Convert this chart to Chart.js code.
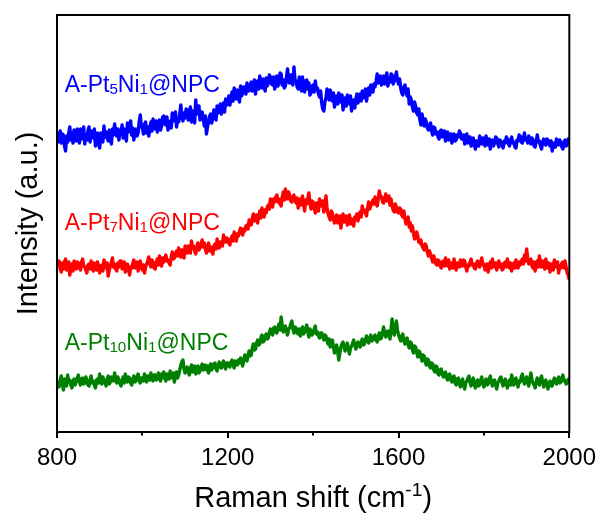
<!DOCTYPE html>
<html>
<head>
<meta charset="utf-8">
<script src="https://cdn.jsdelivr.net/npm/chart.js@4.4.1/dist/chart.umd.min.js"></script>
<style>
  html, body { margin: 0; padding: 0; background: #fff; }
  #wrap { width: 608px; height: 515px; }
</style>
</head>
<body>
<div id="wrap"><canvas id="raman" width="608" height="515"></canvas></div>
<script>
// Raman spectra, sampled every 2.5 cm-1 from 800 to 2000 cm-1 (intensity in a.u.)
// one row = 50 cm-1
const WN_START = 800;
const WN_STEP = 2.5;

const ptNi5 = [
  300,290,294,301,289,298,297,286,281,296,290,299,305,292,299,289,302,296,291,303,
  296,289,303,293,299,305,288,297,292,301,305,290,301,296,294,303,286,297,299,288,
  284,299,297,290,306,295,300,294,291,302,295,288,303,297,308,299,296,303,292,300,
  301,307,294,303,298,291,309,300,305,311,297,304,292,300,303,296,299,310,317,305,
  304,298,308,310,299,305,296,304,310,301,313,307,303,311,300,309,312,302,306,315,
  316,308,307,315,302,310,311,304,319,311,314,320,305,313,310,318,327,314,311,319,
  314,323,322,312,319,325,310,321,317,309,332,318,321,326,312,319,320,313,306,316,
  298,305,310,316,318,309,314,322,317,312,326,319,321,328,318,324,329,320,333,327,
  331,336,327,334,340,331,344,338,333,342,337,330,346,336,339,345,342,338,349,341,
  341,347,350,341,346,352,338,347,351,343,356,349,344,353,347,341,354,346,349,357,
  355,348,347,355,343,351,356,346,350,359,358,347,352,344,346,355,363,350,349,357,
  354,347,365,352,351,345,343,355,348,341,355,346,340,351,352,343,349,337,339,346,
  347,340,351,343,344,338,335,341,329,323,321,330,334,343,339,332,342,335,331,339,
  325,333,336,328,339,331,330,337,322,329,334,326,337,330,328,336,321,329,332,324,
  333,338,329,335,338,331,341,334,336,343,331,339,344,337,347,341,340,348,345,351,
  358,349,351,356,347,354,356,348,353,359,346,352,350,358,357,348,351,355,360,352,
  348,353,344,339,337,345,347,341,336,343,328,335,332,325,321,330,326,319,317,323,
  312,307,318,311,306,313,310,304,302,307,309,301,297,305,304,298,300,295,293,301,
  302,295,297,301,291,297,300,292,294,298,289,296,298,291,292,297,295,301,299,293,
  293,297,288,292,298,289,290,295,286,293,294,287,283,291,290,286,296,290,288,294,
  291,286,296,290,287,293,283,290,292,286,289,295,294,288,285,292,290,287,284,291,
  289,295,293,288,286,292,295,289,290,285,284,292,291,297,296,290,289,294,299,292,
  294,289,296,291,288,294,292,286,285,291,297,290,291,286,283,290,293,288,287,293,
  292,288,286,291,281,287,289,285,293,289,287,292,290,285,283,290,292,286,287,293,
  290
];

const ptNi7 = [
  165,168,171,163,160,169,163,170,173,162,166,170,157,164,168,161,171,165,163,170,
  169,164,162,170,173,166,165,162,159,167,168,163,171,166,161,169,166,162,170,165,
  159,166,167,161,172,167,164,169,156,162,166,170,174,165,168,163,161,169,165,171,
  171,163,166,170,160,166,168,162,157,165,164,169,172,164,167,170,161,167,171,164,
  162,167,159,165,168,171,175,168,165,172,170,164,163,169,173,167,176,170,166,174,
  170,174,177,171,172,169,167,175,180,173,174,178,181,176,184,179,175,182,179,174,
  186,180,179,186,183,179,191,184,186,181,178,185,189,182,184,188,192,185,189,183,
  179,186,189,181,185,182,178,186,188,183,193,187,184,190,189,186,197,191,190,194,
  193,189,187,193,196,191,200,195,191,198,196,201,204,199,197,203,201,206,207,203,
  212,210,207,214,218,211,214,217,209,216,221,214,224,220,215,222,219,225,227,223,
  233,229,225,233,230,235,237,230,233,228,226,235,240,232,243,236,233,240,237,231,
  230,235,237,231,229,234,224,230,233,227,236,229,221,232,228,234,239,229,223,231,
  230,224,219,229,225,221,233,226,227,231,220,228,236,224,218,215,212,221,219,213,
  209,214,217,209,211,216,204,212,218,210,213,216,207,213,217,208,213,210,206,215,
  214,218,211,216,220,215,226,220,222,219,216,224,230,223,226,229,232,228,235,229,
  226,233,241,236,235,230,229,234,238,231,232,236,227,233,226,222,220,228,225,220,
  219,224,223,217,215,221,213,208,210,215,205,209,201,206,199,193,194,200,196,190,
  189,192,186,184,182,188,186,180,176,181,178,174,170,176,173,168,167,172,171,166,
  164,170,171,166,174,168,166,172,163,167,169,164,173,167,162,169,168,165,172,166,
  166,172,171,165,161,167,166,170,173,167,168,164,163,169,171,166,165,170,174,167,
  168,162,164,168,160,166,170,164,173,167,165,169,162,167,171,165,168,162,163,169,
  170,165,173,168,164,169,161,167,169,164,172,166,164,170,167,171,173,168,177,171,
  183,174,168,171,173,166,164,170,161,167,171,165,176,169,165,171,168,163,173,167,
  164,169,160,166,168,162,172,167,165,170,159,166,164,169,170,164,171,165,159,157,
  152
];

const ptNi10 = [
  51,48,45,52,56,49,42,53,49,46,57,50,52,47,44,51,53,47,50,54,
  57,51,47,53,54,48,49,55,52,47,46,52,56,49,51,47,44,52,53,49,
  58,51,48,55,51,49,46,53,56,48,50,55,53,51,59,52,49,55,52,48,
  46,52,55,49,58,53,50,55,54,49,47,52,56,50,51,55,58,52,49,54,
  54,51,58,53,50,56,56,52,59,54,51,57,57,52,53,59,55,51,58,54,
  60,55,51,58,57,53,61,56,54,59,50,56,60,54,57,62,67,70,72,63,
  59,62,65,60,57,63,67,60,63,66,58,64,66,59,61,65,68,62,64,67,
  62,66,59,64,68,62,65,68,69,63,61,66,70,65,64,68,71,66,63,69,
  69,66,65,70,72,67,64,71,70,67,72,69,74,70,66,72,77,73,71,77,
  81,76,77,84,88,82,83,89,92,87,88,94,97,90,91,96,98,93,94,100,
  103,99,97,104,105,100,99,104,108,102,115,107,100,104,106,101,97,103,104,108,
  111,104,99,105,104,99,98,103,96,101,105,98,100,104,107,100,95,103,101,97,
  99,103,106,98,100,96,94,99,99,95,92,97,96,91,88,93,85,89,92,85,
  79,84,87,80,72,79,85,88,90,85,81,86,89,83,78,84,86,89,92,87,
  83,87,90,86,85,90,93,87,88,92,96,91,89,94,97,91,92,95,97,92,
  90,95,99,93,94,99,105,98,95,100,101,96,93,103,113,101,97,104,111,102,
  97,94,91,96,98,91,88,93,94,87,84,90,89,82,79,86,85,80,75,81,
  80,75,71,77,76,70,67,73,72,66,64,69,68,62,60,66,65,58,57,62,
  63,58,55,59,60,54,52,57,58,52,50,55,56,49,47,53,54,48,45,51,
  53,47,43,49,51,54,56,50,46,51,54,48,44,50,52,46,47,52,55,49,
  45,50,53,47,48,53,56,50,46,51,52,47,43,49,51,54,55,49,46,51,
  53,48,44,50,52,47,57,51,47,52,54,49,45,51,50,55,58,52,48,51,
  55,50,46,53,59,52,49,47,44,50,54,49,47,53,56,50,45,49,52,47,
  43,48,51,46,46,51,54,50,48,52,55,49,50,54,57,51,52,48,49,52,
  54
];

const majorTicks = [800, 1200, 1600, 2000];
const minorTicks = [1000, 1400, 1800];

const seriesNames = ['A-Pt5Ni1@NPC', 'A-Pt7Ni1@NPC', 'A-Pt10Ni1@NPC'];
const seriesColors = ['#0000ff', '#ff0000', '#008000'];

[ptNi5, ptNi7, ptNi10].forEach((s, i) => {
  if (s.length !== 481) throw new Error(seriesNames[i] + ' has ' + s.length + ' samples');
});

const FONT = '"Liberation Sans", Arial, Helvetica, sans-serif';

const toPoints = (vals) => vals.map((v, i) => ({ x: WN_START + i * WN_STEP, y: v }));

// Rich text with sub/superscript runs: parts = [[text, mode]] where mode 0 normal, 1 sub, 2 sup
function drawRich(ctx, parts, x, y, size, align) {
  const measure = () => {
    let w = 0;
    for (const [t, m] of parts) {
      ctx.font = `${m ? size * 0.66 : size}px ${FONT}`;
      w += ctx.measureText(t).width;
    }
    return w;
  };
  let cx = align === 'center' ? x - measure() / 2 : x;
  ctx.textAlign = 'left';
  ctx.textBaseline = 'alphabetic';
  for (const [t, m] of parts) {
    const fs = m ? size * 0.66 : size;
    ctx.font = `${fs}px ${FONT}`;
    const dy = m === 1 ? size * 0.1 : (m === 2 ? -size * 0.38 : 0);
    ctx.fillText(t, cx, y + dy);
    cx += ctx.measureText(t).width;
  }
}

const seriesTags = [
  { parts: [['A-Pt', 0], ['5', 1], ['Ni', 0], ['1', 1], ['@NPC', 0]], x: 818, y: 340 },
  { parts: [['A-Pt', 0], ['7', 1], ['Ni', 0], ['1', 1], ['@NPC', 0]], x: 818, y: 202 },
  { parts: [['A-Pt', 0], ['10', 1], ['Ni', 0], ['1', 1], ['@NPC', 0]], x: 818, y: 82 }
];

const decorations = {
  id: 'decorations',
  afterDatasetsDraw(chart) {
    const { ctx, chartArea: a, scales } = chart;
    const xs = scales.x, ys = scales.y;
    ctx.save();
    // frame
    ctx.strokeStyle = '#000';
    ctx.lineWidth = 2;
    ctx.strokeRect(a.left, a.top, a.right - a.left, a.bottom - a.top);
    // outward ticks on the bottom axis
    ctx.beginPath();
    majorTicks.forEach(v => {
      const px = Math.round(xs.getPixelForValue(v));
      ctx.moveTo(px, a.bottom);
      ctx.lineTo(px, a.bottom + 6);
    });
    minorTicks.forEach(v => {
      const px = Math.round(xs.getPixelForValue(v));
      ctx.moveTo(px, a.bottom);
      ctx.lineTo(px, a.bottom + 3.5);
    });
    ctx.stroke();
    // series tags
    seriesTags.forEach((tag, i) => {
      ctx.fillStyle = seriesColors[i];
      drawRich(ctx, tag.parts, xs.getPixelForValue(tag.x), ys.getPixelForValue(tag.y), 23, 'left');
    });
    // axis titles
    ctx.fillStyle = '#000';
    drawRich(ctx, [['Raman shift (cm', 0], ['-1', 2], [')', 0]], (a.left + a.right) / 2, 507, 29, 'center');
    ctx.translate(37, (a.top + a.bottom) / 2);
    ctx.rotate(-Math.PI / 2);
    ctx.font = `29px ${FONT}`;
    ctx.textAlign = 'center';
    ctx.textBaseline = 'alphabetic';
    ctx.fillText('Intensity (a.u.)', 0, 0);
    ctx.restore();
  }
};

new Chart(document.getElementById('raman'), {
  type: 'line',
  data: {
    datasets: [ptNi5, ptNi7, ptNi10].map((vals, i) => ({
      label: seriesNames[i],
      data: toPoints(vals),
      borderColor: seriesColors[i],
      borderWidth: 3.4,
      borderJoinStyle: 'round',
      pointRadius: 0,
      tension: 0,
      fill: false
    }))
  },
  options: {
    responsive: false,
    animation: false,
    events: [],
    layout: { padding: { left: 57, right: 36, top: 15, bottom: 0 } },
    plugins: { legend: { display: false }, tooltip: { enabled: false } },
    scales: {
      x: {
        type: 'linear',
        min: 800,
        max: 2000,
        afterFit: (s) => { s.height = 83; },
        grid: { display: false, drawTicks: false },
        border: { display: false },
        ticks: {
          stepSize: 400,
          autoSkip: false,
          maxRotation: 0,
          padding: 12,
          color: '#000',
          font: { family: FONT, size: 24 },
          callback: (v) => (majorTicks.includes(v) ? String(v) : '')
        }
      },
      y: {
        display: false,
        min: 0,
        max: 417
      }
    }
  },
  plugins: [decorations]
});
</script>
</body>
</html>
